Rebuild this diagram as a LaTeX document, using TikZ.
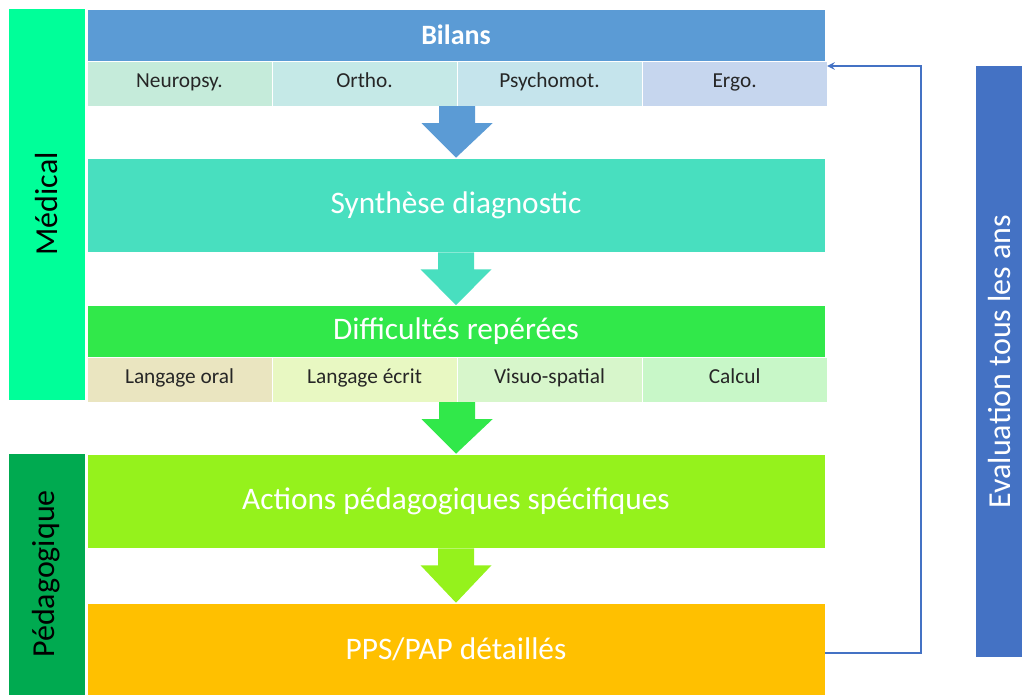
\documentclass[tikz,border=0pt]{standalone}
\usepackage{fontspec}
\setmainfont{Carlito}
\usepackage{tikz}
\usetikzlibrary{positioning,calc}
\definecolor{MedGreen}{RGB}{0,255,153}
\definecolor{PedaGreen}{RGB}{0,170,80}
\definecolor{BilanBlue}{RGB}{91,155,213}
\definecolor{EvalBlue}{RGB}{68,114,196}
\definecolor{SynthTeal}{RGB}{72,223,191}
\definecolor{DiffGreen}{RGB}{49,232,74}
\definecolor{ActionGreen}{RGB}{149,242,28}
\definecolor{PPSOrange}{RGB}{255,192,0}
\definecolor{CellNeuro}{RGB}{197,235,218}
\definecolor{CellOrtho}{RGB}{197,233,231}
\definecolor{CellPsycho}{RGB}{197,228,236}
\definecolor{CellErgo}{RGB}{198,214,238}
\definecolor{CellOral}{RGB}{234,229,192}
\definecolor{CellEcrit}{RGB}{232,248,194}
\definecolor{CellVisuo}{RGB}{215,246,203}
\definecolor{CellCalcul}{RGB}{200,247,200}
\definecolor{TextDark}{RGB}{38,38,38}
\tikzset{%
  stage/.style={%
    text=white, draw=white, line width=.4pt, minimum width=553.5pt,
    minimum height=70.5pt, inner sep=0pt, font=\fontsize{23.5}{28}\selectfont
  },
  header/.style={%
    stage, minimum height=39pt
  },
  cell/.style={%
    text=TextDark, draw=white, line width=.4pt, minimum width=138.375pt,
    minimum height=33.5pt, inner sep=0pt, text height=0.8em, text depth=0.16em,
    font=\fontsize{16}{19}\selectfont
  },
  sidebar/.style={%
    minimum width=57.75pt, inner sep=0pt, draw=white, line width=.4pt
  },
  sidelabel/.style={rotate=90, inner sep=0pt, font=\fontsize{24}{28}\selectfont},
  feedback/.style={EvalBlue, line width=1.5pt, ->, >=stealth},
}
\newcommand{\flecheBas}[3]{%
  \fill[#3] ($(#1)+(-18,0)$) -- ++(36,0) -- ++(0,17) -- ++(17.5,0) -- (#2)
    -- ($(#1)+(-35.5,17)$) -- ++(17.5,0) -- cycle;
}

\begin{document}
\begin{tikzpicture}[x=0.75pt, y=-0.75pt]
  \useasboundingbox (0,0) rectangle (1022,695);

  \node (Medical)[sidebar, fill=MedGreen, minimum height=294pt] at (46.5,204) {};
  \node[sidelabel] at (Medical) {Médical};
  \node (Pedagogique)[sidebar, fill=PedaGreen, minimum height=181.5pt] at (46.5,574) {};
  \node[sidelabel] at (Pedagogique) {Pédagogique};

  \node (Bilans)[header, fill=BilanBlue, font=\fontsize{21}{25}\selectfont\bfseries] at (456,35) {Bilans};
  \node (Neuropsy)[cell, fill=CellNeuro, anchor=north west] at (87,61) {Neuropsy.};
  \node (Ortho)[cell, fill=CellOrtho, right=0pt of Neuropsy] {Ortho.};
  \node (Psychomot)[cell, fill=CellPsycho, right=0pt of Ortho] {Psychomot.};
  \node (Ergo)[cell, fill=CellErgo, right=0pt of Psychomot] {Ergo.};

  \node (Synthese)[stage, fill=SynthTeal] at (456,205) {Synthèse diagnostic};

  \node (Difficultes)[header, fill=DiffGreen] at (456,331.5) {Difficultés repérées};
  \node (Oral)[cell, fill=CellOral, anchor=north west] at (87,357) {Langage oral};
  \node (Ecrit)[cell, fill=CellEcrit, right=0pt of Oral] {Langage écrit};
  \node (Visuo)[cell, fill=CellVisuo, right=0pt of Ecrit] {Visuo-spatial};
  \node (Calcul)[cell, fill=CellCalcul, right=0pt of Visuo] {Calcul};

  \node (Actions)[stage, fill=ActionGreen] at (456,501) {Actions pédagogiques spécifiques};
  \node (PPS)[stage, fill=PPSOrange, minimum height=69pt] at (456,649) {PPS/PAP détaillés};

  \node (Evaluation)[fill=EvalBlue, minimum width=34.5pt, minimum height=443.25pt, inner sep=0pt] at (999,361.5) {};
  \node[sidelabel, text=white] at (Evaluation) {Evaluation tous les ans};

  \flecheBas{Ortho.south east}{Synthese.north}{BilanBlue}
  \flecheBas{Synthese.south}{Difficultes.north}{SynthTeal}
  \flecheBas{Ecrit.south east}{Actions.north}{DiffGreen}
  \flecheBas{Actions.south}{PPS.north}{ActionGreen}

  \coordinate (RetourBas) at ($(PPS.east)+(0,4)$);
  \coordinate (RetourHaut) at ($(Ergo.north east)+(0,5)$);
  \draw[feedback] (RetourBas) -- (921,653) -- (921,66) -- (RetourHaut);
\end{tikzpicture}
\end{document}
